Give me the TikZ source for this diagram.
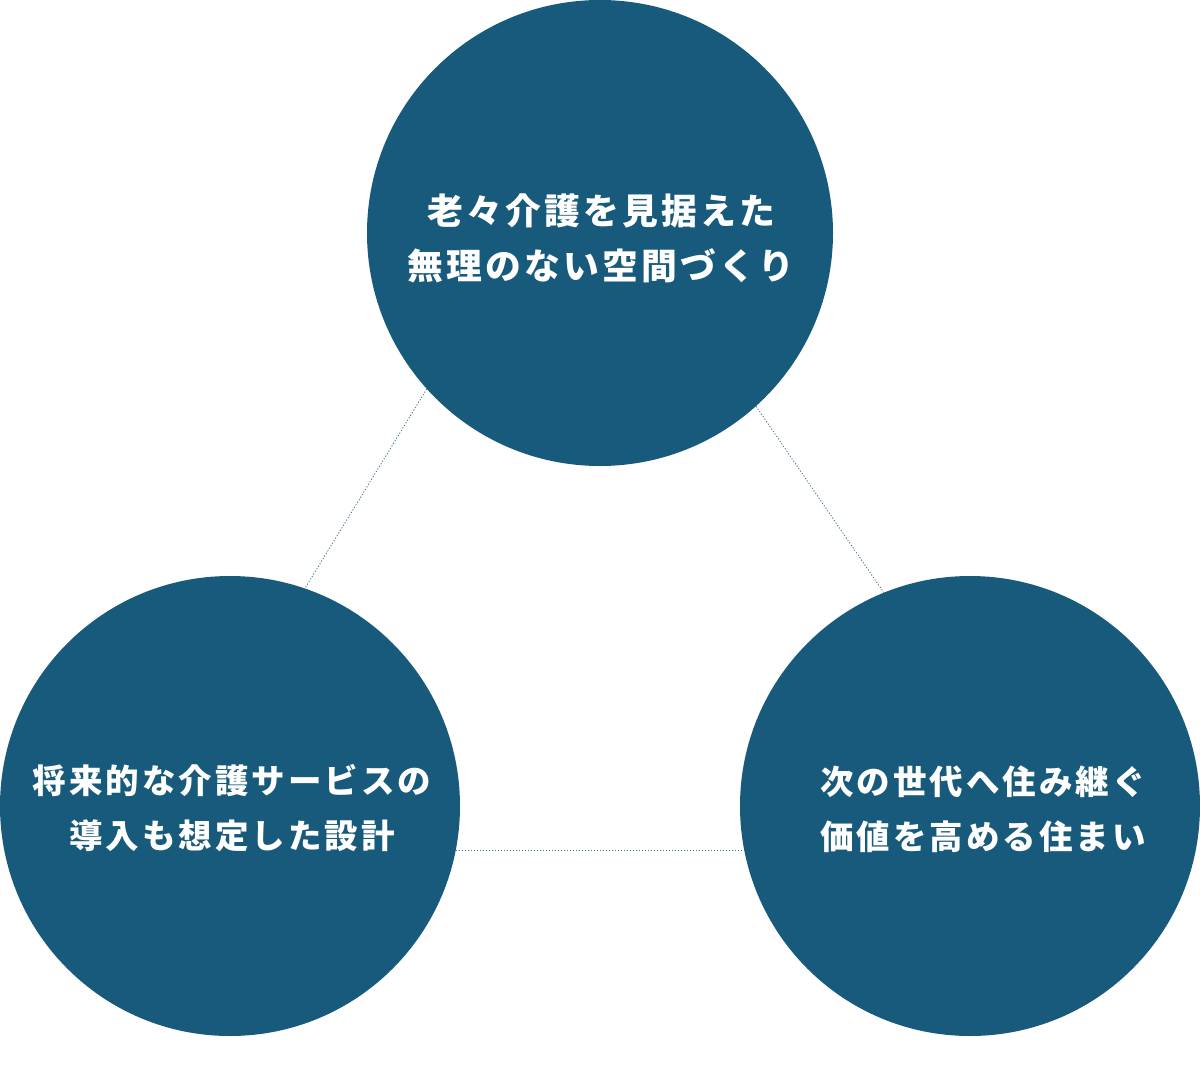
\documentclass[tikz,border=0pt]{standalone}
\usepackage{fontspec}
\newfontfamily\jpfont[LetterSpace=9]{Noto Sans CJK JP}
\definecolor{deepsea}{HTML}{175A7B}
\tikzset{
  ball/.style={circle, fill=deepsea, draw=none, inner sep=0pt, minimum size=#1},
  caption/.style={text=white, align=center, inner sep=0pt,
    font=\jpfont\bfseries\fontsize{#1}{55}\selectfont},
  dotline/.style={deepsea!85, line width=0.8pt, dash pattern=on 1.2pt off 1.8pt},
}

\begin{document}
\begin{tikzpicture}[x=1pt, y=-1pt]
			%%%%% START %%%%%
			
			\useasboundingbox (0, 0) rectangle (1200, 1087);
			
			\node[ball=466] (top) at (600, 233) {};
			\node[ball=460] (left) at (230, 806) {};
			\node[ball=460] (right) at (970, 806) {};
			
			\node[caption=35.8] (toptext) at (601, 238) {老々介護を見据えた\\無理のない空間づくり};
			\node[caption=33.5] (lefttext) at (232, 808) {将来的な介護サービスの\\導入も想定した設計};
			\node[caption=33.5] (righttext) at (983, 809) {次の世代へ住み継ぐ\\価値を高める住まい};
			
			\draw[dotline] (top.222.9) -- (left.71.6);
			\draw[dotline] (top.312.9) -- (right.112.4);
			\draw[dotline] (left.-11) -- (right.191);
			
			%%%%% END %%%%%
\end{tikzpicture}
\end{document}
